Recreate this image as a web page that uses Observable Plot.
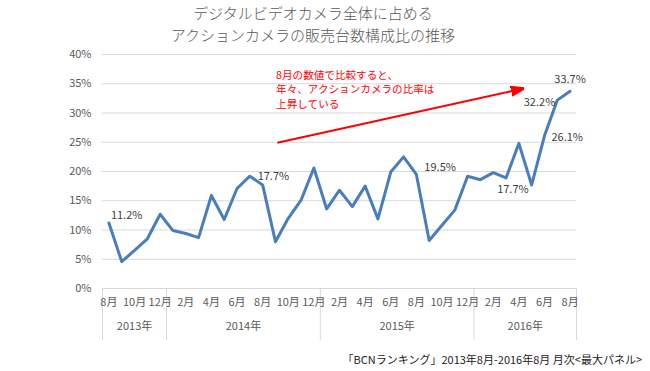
<!DOCTYPE html>
<html>
<head>
<meta charset="utf-8">
<script src="https://cdn.jsdelivr.net/npm/d3@7"></script>
<script src="https://cdn.jsdelivr.net/npm/@observablehq/plot@0.6"></script>
<style>
  body { margin: 0; background: #fff; }
  #wrap { position: relative; width: 650px; height: 371px; font-family: "Noto Sans CJK JP", sans-serif; }
  .title { position: absolute; left: 0; width: 626px; height: 22px; text-align: center; font-size: 15px; line-height: 22px; color: #595959; font-weight: 300; white-space: nowrap; }
  #t1 { top: 1.5px; }
  #t2 { top: 23.5px; }
  #footer { position: absolute; right: 8px; top: 351px; font-size: 11px; color: #222; white-space: nowrap; }
  #chart { position: absolute; left: 0; top: 0; }
</style>
</head>
<body>
<div id="wrap">
  <div id="chart"></div>
  <div class="title" id="t1">デジタルビデオカメラ全体に占める</div>
  <div class="title" id="t2">アクションカメラの販売台数構成比の推移</div>
  <div id="footer">「BCNランキング」2013年8月-2016年8月 月次&lt;最大パネル&gt;</div>
</div>
<script>
// ---- data ----
const monthLabels = [
  "8月","9月","10月","11月","12月",
  "1月","2月","3月","4月","5月","6月","7月","8月","9月","10月","11月","12月",
  "1月","2月","3月","4月","5月","6月","7月","8月","9月","10月","11月","12月",
  "1月","2月","3月","4月","5月","6月","7月","8月"
];
const shares = [
  11.2, 4.6, 6.5, 8.5, 12.7,
  9.9, 9.4, 8.7, 15.9, 11.8, 17.1, 19.2, 17.7, 8.0, 12.0, 15.1, 20.6,
  13.6, 16.8, 14.0, 17.5, 11.9, 19.9, 22.5, 19.5, 8.2, 10.8, 13.4, 19.2,
  18.6, 19.8, 18.9, 24.8, 17.7, 26.1, 32.2, 33.7
];
const years = ["2013年", "2014年", "2015年", "2016年"];
const yearStartIdx = [0, 5, 17, 29];
const yTicks = [0, 5, 10, 15, 20, 25, 30, 35, 40];
const annotationText = "8月の数値で比較すると、\n年々、アクションカメラの比率は\n上昇している";
const arrowFrom = {x: 13.15, y: 24.9};
const arrowTo = {x: 32.4, y: 34.2};

// ---- derived ----
const n = shares.length;
const rows = shares.map((v, i) => ({i, v, m: monthLabels[i]}));
const evenIdx = d3.range(0, n, 2);
const yearEnds = yearStartIdx.slice(1).concat([n]);
const yearBounds = [-0.5].concat(yearEnds.map(e => e - 0.5));
const yearCenters = yearStartIdx.map((s, k) => (s + yearEnds[k] - 1) / 2);

function filledArrow(color) {
  const ns = "http://www.w3.org/2000/svg";
  const m = document.createElementNS(ns, "marker");
  m.setAttribute("viewBox", "-5 -5 10 10");
  m.setAttribute("markerWidth", "6.5");
  m.setAttribute("markerHeight", "6.5");
  m.setAttribute("refX", "5");
  m.setAttribute("refY", "0");
  m.setAttribute("orient", "auto");
  const p = document.createElementNS(ns, "path");
  p.setAttribute("d", "M-5,-3.3L5,0L-5,3.3Z");
  p.setAttribute("fill", color);
  m.appendChild(p);
  return m;
}

const labelFont = {fill: "#404040", fontSize: 11};
function valueLabel(idx, opts) {
  return Plot.text([idx], {
    x: d => d, y: d => shares[d], text: d => shares[d].toFixed(1) + "%",
    ...labelFont, ...opts
  });
}

const chart = Plot.plot({
  width: 650,
  height: 371,
  marginLeft: 102,
  marginRight: 74,
  marginTop: 54,
  marginBottom: 83,
  style: {fontFamily: "'Noto Sans CJK JP', sans-serif", fontSize: "11px", color: "#595959", background: "transparent"},
  x: {type: "linear", domain: [-0.5, n - 0.5], label: null},
  y: {domain: [0, 40], label: null},
  marks: [
    Plot.gridY(yTicks, {stroke: "#d9d9d9", strokeOpacity: 1}),
    Plot.axisY(yTicks, {tickSize: 0, tickPadding: 11, tickFormat: d => d + "%", fill: "#595959", label: null}),
    Plot.axisX(yearBounds, {tickSize: 52, tickFormat: () => "", stroke: "#d9d9d9", strokeOpacity: 1, label: null}),
    Plot.axisX(evenIdx, {tickSize: 0, tickPadding: 10, tickFormat: i => monthLabels[i], fill: "#595959", label: null}),
    Plot.axisX(yearCenters, {tickSize: 0, tickPadding: 34, tickFormat: (d, k) => years[k], fill: "#595959", label: null}),
    Plot.line(rows, {x: "i", y: "v", stroke: "#4a7ebb", strokeWidth: 3, strokeLinejoin: "round", strokeLinecap: "round"}),
    valueLabel(0, {textAnchor: "start", dx: 2, dy: -8}),
    valueLabel(12, {textAnchor: "start", dx: -5, dy: -8}),
    valueLabel(24, {textAnchor: "start", dx: 8, dy: -7}),
    valueLabel(33, {textAnchor: "end", dx: -3, dy: 5}),
    valueLabel(34, {textAnchor: "start", dx: 7, dy: 2}),
    valueLabel(35, {textAnchor: "end", dx: -2, dy: 2}),
    valueLabel(36, {textAnchor: "middle", dy: -12}),
    Plot.link([{x1: arrowFrom.x, y1: arrowFrom.y, x2: arrowTo.x, y2: arrowTo.y}], {
      x1: "x1", y1: "y1", x2: "x2", y2: "y2", stroke: "#ff0000", strokeWidth: 2, markerEnd: filledArrow
    }),
    Plot.text([annotationText], {
      x: arrowFrom.x - 0.1, y: 37.7, text: d => d, textAnchor: "start", lineAnchor: "top",
      lineHeight: 1.4, fill: "#ff0000", fontSize: 10.6
    })
  ]
});
document.getElementById("chart").appendChild(chart);
</script>
</body>
</html>
